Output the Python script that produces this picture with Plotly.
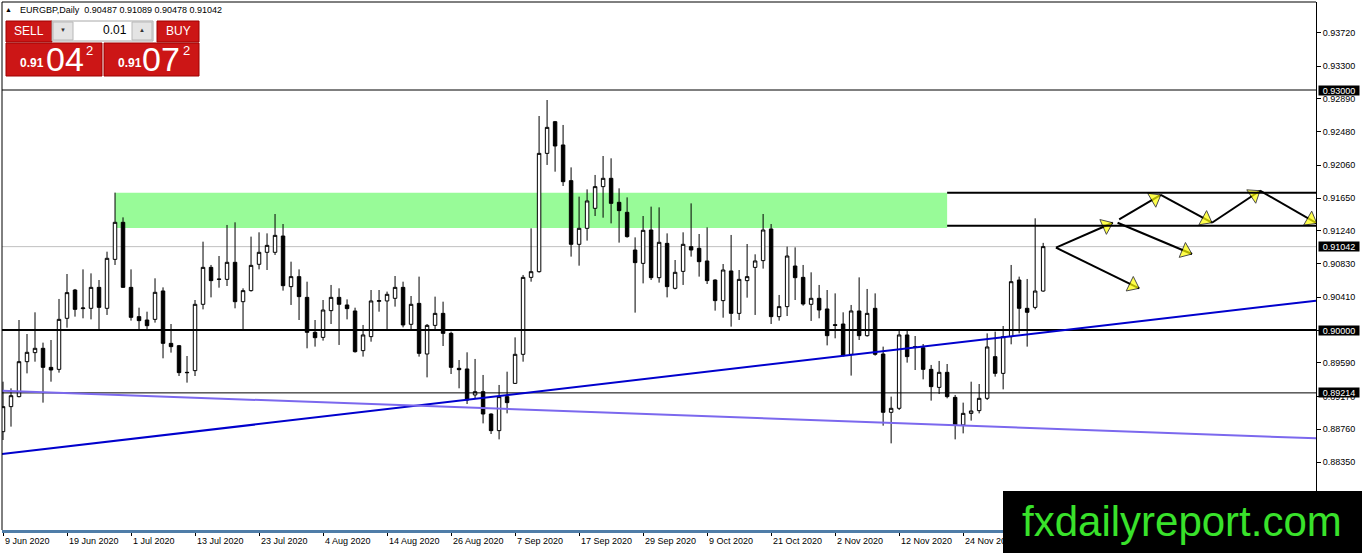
import math
import pandas as pd
import plotly.graph_objects as go

# EURGBP daily candles, 9 Jun 2020 .. 8 Dec 2020
opens = [0.88729, 0.89042, 0.89167, 0.89604, 0.89717, 0.89771, 0.89533, 0.89508, 0.90146, 0.90500,
         0.90267, 0.90271, 0.90533, 0.90271, 0.90883, 0.91346, 0.90533, 0.90167, 0.90125, 0.90133,
         0.90488, 0.89833, 0.89804, 0.89471, 0.89492, 0.90321, 0.90783, 0.90638, 0.90633, 0.90846,
         0.90354, 0.90492, 0.90821, 0.90971, 0.90971, 0.91175, 0.90542, 0.90667, 0.90408, 0.89971,
         0.89908, 0.90242, 0.90408, 0.90313, 0.90238, 0.89742, 0.89917, 0.90358, 0.90363, 0.90396,
         0.90533, 0.90071, 0.90333, 0.89700, 0.90058, 0.90208, 0.89958, 0.89521, 0.89513, 0.89188,
         0.89229, 0.88950, 0.88742, 0.89167, 0.89333, 0.89696, 0.90658, 0.90729, 0.92208, 0.92604,
         0.92313, 0.91867, 0.91071, 0.91271, 0.91521, 0.91792, 0.91896, 0.91596, 0.91471, 0.91000,
         0.90833, 0.91250, 0.90654, 0.91083, 0.90521, 0.90733, 0.91042, 0.91021, 0.90863, 0.90625,
         0.90367, 0.90738, 0.90208, 0.90617, 0.90783, 0.90867, 0.91263, 0.90167, 0.90292, 0.90800,
         0.90658, 0.90321, 0.90396, 0.90263, 0.90067, 0.90075, 0.89696, 0.90238, 0.89929, 0.90271,
         0.89700, 0.88971, 0.89021, 0.89938, 0.89792, 0.89779, 0.89508, 0.89283, 0.89471, 0.89158,
         0.88813, 0.88958, 0.88992, 0.89146, 0.89667, 0.89458, 0.89917, 0.90625, 0.90271, 0.90283,
         0.90487]
highs = [0.89354, 0.89271, 0.90125, 0.89950, 0.90221, 0.89842, 0.89875, 0.90388, 0.90700, 0.90513,
         0.90758, 0.90708, 0.90625, 0.90979, 0.91717, 0.91408, 0.90758, 0.90279, 0.90229, 0.90646,
         0.90533, 0.90075, 0.89813, 0.89675, 0.90375, 0.91104, 0.90813, 0.90925, 0.91313, 0.91346,
         0.90521, 0.91167, 0.91221, 0.91208, 0.91450, 0.91325, 0.90854, 0.90758, 0.90604, 0.90125,
         0.90375, 0.90563, 0.90521, 0.90383, 0.90279, 0.90063, 0.90500, 0.90500, 0.90480, 0.90675,
         0.90604, 0.90425, 0.90667, 0.90075, 0.90417, 0.90354, 0.89979, 0.89625, 0.89721, 0.89638,
         0.89438, 0.88958, 0.89313, 0.89479, 0.89908, 0.90688, 0.91271, 0.92675, 0.92875, 0.92613,
         0.92563, 0.92033, 0.91667, 0.91758, 0.91938, 0.92175, 0.92146, 0.91771, 0.91658, 0.91158,
         0.91425, 0.91542, 0.91533, 0.91208, 0.90875, 0.91221, 0.91583, 0.91200, 0.91283, 0.90633,
         0.90825, 0.91188, 0.90750, 0.91075, 0.90946, 0.91450, 0.91325, 0.90438, 0.91042, 0.91033,
         0.90813, 0.90721, 0.90563, 0.90500, 0.90458, 0.90221, 0.90313, 0.90658, 0.90513, 0.90458,
         0.89792, 0.89167, 0.90008, 0.90008, 0.89925, 0.89825, 0.89563, 0.89613, 0.89575, 0.89188,
         0.89092, 0.89354, 0.89325, 0.89958, 0.89980, 0.90050, 0.90813, 0.90667, 0.90638, 0.91396,
         0.91089]
lows = [0.88625, 0.88792, 0.89158, 0.89458, 0.89604, 0.89092, 0.89354, 0.89467, 0.90029, 0.90167,
        0.90146, 0.90133, 0.89992, 0.90188, 0.90813, 0.90529, 0.90117, 0.89992, 0.89992, 0.90092,
        0.89646, 0.89717, 0.89425, 0.89342, 0.89425, 0.90258, 0.90408, 0.90529, 0.90550, 0.90271,
        0.89992, 0.90480, 0.90758, 0.90750, 0.90938, 0.90492, 0.90313, 0.90125, 0.89771, 0.89792,
        0.89867, 0.90075, 0.89813, 0.90133, 0.89717, 0.89667, 0.89854, 0.90229, 0.90000, 0.90292,
        0.90033, 0.90000, 0.89667, 0.89408, 0.90000, 0.89800, 0.89450, 0.89271, 0.89075, 0.89146,
        0.88833, 0.88700, 0.88633, 0.88958, 0.89325, 0.89604, 0.90604, 0.90717, 0.92063, 0.91979,
        0.91800, 0.90917, 0.90804, 0.91117, 0.91425, 0.91404, 0.91333, 0.91092, 0.91154, 0.90217,
        0.90583, 0.90625, 0.90592, 0.90408, 0.90508, 0.90563, 0.90917, 0.90667, 0.90575, 0.90242,
        0.90154, 0.90042, 0.90125, 0.90404, 0.90188, 0.90767, 0.90075, 0.90117, 0.90175, 0.90375,
        0.90304, 0.90113, 0.90146, 0.89808, 0.89896, 0.89667, 0.89430, 0.89875, 0.89917, 0.89679,
        0.88804, 0.88583, 0.89000, 0.89592, 0.89500, 0.89383, 0.89117, 0.89200, 0.89146, 0.88633,
        0.88708, 0.88867, 0.88958, 0.89125, 0.89417, 0.89258, 0.89821, 0.89958, 0.89792, 0.90258,
        0.90478]
closes = [0.89042, 0.89179, 0.89604, 0.89721, 0.89771, 0.89533, 0.89500, 0.90133, 0.90467, 0.90258,
          0.90275, 0.90533, 0.90283, 0.90896, 0.91346, 0.90533, 0.90158, 0.90117, 0.90054, 0.90471,
          0.89833, 0.89792, 0.89467, 0.89467, 0.90321, 0.90783, 0.90617, 0.90633, 0.90846, 0.90354,
          0.90492, 0.90808, 0.90971, 0.91058, 0.91183, 0.90554, 0.90667, 0.90417, 0.89971, 0.89904,
          0.90250, 0.90408, 0.90321, 0.90267, 0.89729, 0.89938, 0.90363, 0.90367, 0.90446, 0.90533,
          0.90063, 0.90321, 0.89708, 0.90058, 0.90208, 0.89958, 0.89533, 0.89504, 0.89125, 0.89229,
          0.88950, 0.88742, 0.89167, 0.89092, 0.89696, 0.90658, 0.90729, 0.92208, 0.92533, 0.92300,
          0.91854, 0.91071, 0.91271, 0.91613, 0.91792, 0.91896, 0.91583, 0.91492, 0.91167, 0.90842,
          0.91246, 0.90654, 0.91096, 0.90542, 0.90721, 0.91071, 0.91000, 0.90854, 0.90617, 0.90367,
          0.90750, 0.90208, 0.90633, 0.90667, 0.90863, 0.91250, 0.90167, 0.90292, 0.90925, 0.90654,
          0.90325, 0.90396, 0.90250, 0.89929, 0.90058, 0.89679, 0.90238, 0.89929, 0.90208, 0.89696,
          0.88971, 0.89021, 0.89938, 0.89667, 0.89783, 0.89508, 0.89292, 0.89471, 0.89167, 0.88813,
          0.88958, 0.88988, 0.89146, 0.89788, 0.89458, 0.89917, 0.90604, 0.90271, 0.90221, 0.90487,
          0.91042]

date_ticks = ["9 Jun 2020", "19 Jun 2020", "1 Jul 2020", "13 Jul 2020", "23 Jul 2020", "4 Aug 2020",
              "14 Aug 2020", "26 Aug 2020", "7 Sep 2020", "17 Sep 2020", "29 Sep 2020", "9 Oct 2020",
              "21 Oct 2020", "2 Nov 2020", "12 Nov 2020", "24 Nov 2020"]
price_ticks = [0.93720, 0.93300, 0.92890, 0.92480, 0.92060, 0.91650, 0.91240, 0.90830,
               0.90410, 0.90000, 0.89590, 0.89170, 0.88760, 0.88350]
price_tags = [0.93000, 0.91042, 0.90000, 0.89214]

# drawn objects
hlines = [0.93000, 0.90000, 0.89214]
hline_widths = [1, 2, 1]
bid_line = 0.91042
zone_bars = [14, 118]
zone_prices = [0.91275, 0.91717]
res_lines = [0.91715, 0.91304]
blue_trend = ([-0.125, 164.1], [0.88450, 0.90366])
purple_trend = ([-0.125, 164.1], [0.89241, 0.88646])
arrows = [
    (131.6, 0.91029, 142.0, 0.90521),
    (131.6, 0.91029, 138.7, 0.91341),
    (139.3, 0.91341, 148.6, 0.90950),
    (139.5, 0.91384, 144.7, 0.91688),
    (144.7, 0.91688, 151.1, 0.91341),
    (151.1, 0.91341, 157.1, 0.91741),
    (157.1, 0.91741, 164.2, 0.91333),
]

W, H = 1362, 553
L_M, R_M, T_M, B_M = 2, 46, 2, 23
Y_RANGE = [0.875, 0.941]
X_RANGE = [-0.125, 164.1]
FONT = "Liberation Sans, Arial, sans-serif"
RED = "#CC1616"

dates = pd.bdate_range("2020-06-09", periods=len(opens))
date_labels = [f"{d.day} {d:%b %Y}" for d in dates]
idx = list(range(len(opens)))


def px(x):
    return (x - L_M) / (W - L_M - R_M)


def py(y):
    return (H - B_M - y) / (H - T_M - B_M)


fig = go.Figure()
fig.add_trace(go.Candlestick(
    x=idx, open=opens, high=highs, low=lows, close=closes,
    text=date_labels, whiskerwidth=0, showlegend=False,
    increasing=dict(line=dict(color="black", width=1), fillcolor="white"),
    decreasing=dict(line=dict(color="black", width=1), fillcolor="black"),
))

# pixels per unit, to pull arrow heads back from the tips
ppx = (W - L_M - R_M) / (X_RANGE[1] - X_RANGE[0])
ppy = (H - T_M - B_M) / (Y_RANGE[1] - Y_RANGE[0])
for x0, y0, x1, y1 in arrows:
    dl = math.hypot((x1 - x0) * ppx, (y1 - y0) * ppy)
    f = 1 - 7 / dl
    fig.add_trace(go.Scatter(
        x=[x0, x1], y=[y0, y1], mode="lines",
        line=dict(color="black", width=2), hoverinfo="skip", showlegend=False))
    fig.add_trace(go.Scatter(
        x=[x0, x0 + (x1 - x0) * f], y=[y0, y0 + (y1 - y0) * f], mode="markers",
        marker=dict(symbol="triangle-up", size=[0, 14], angleref="previous",
                    color="#FFFF00", line=dict(color="black", width=1)),
        hoverinfo="skip", showlegend=False))

shapes = []
shapes.append(dict(type="rect", xref="x", yref="y", x0=zone_bars[0], x1=zone_bars[1],
                   y0=zone_prices[0], y1=zone_prices[1], fillcolor="#98FB98",
                   line=dict(width=0), layer="below"))
shapes.append(dict(type="line", xref="paper", yref="y", x0=0, x1=1, y0=bid_line, y1=bid_line,
                   line=dict(color="#C0C0C0", width=1), layer="below"))
for lv, lw in zip(hlines, hline_widths):
    shapes.append(dict(type="line", xref="paper", yref="y", x0=0, x1=1, y0=lv, y1=lv,
                       line=dict(color="black", width=lw)))
for lv in res_lines:
    shapes.append(dict(type="line", xref="x", yref="y", x0=zone_bars[1], x1=X_RANGE[1],
                       y0=lv, y1=lv, line=dict(color="black", width=2)))
for (xs, ys), col in [(blue_trend, "#0000CD"), (purple_trend, "#7B68EE")]:
    shapes.append(dict(type="line", xref="x", yref="y", x0=xs[0], x1=xs[1], y0=ys[0], y1=ys[1],
                       line=dict(color=col, width=2)))
# frame: left and top
shapes.append(dict(type="line", xref="paper", yref="paper", x0=0, x1=0, y0=0, y1=1,
                   line=dict(color="black", width=1)))
shapes.append(dict(type="line", xref="paper", yref="paper", x0=0, x1=1, y0=1, y1=1,
                   line=dict(color="black", width=1)))


def box(x0, y0, x1, y1, fill, edge):
    shapes.append(dict(type="rect", xref="paper", yref="paper", x0=px(x0), x1=px(x1),
                       y0=py(y1), y1=py(y0), fillcolor=fill, line=dict(color=edge, width=1),
                       layer="above"))


# one-click trading panel
box(6, 21, 52, 42, RED, "#9E0000")
box(6, 43, 102, 76, RED, "#9E0000")
box(157, 21, 199, 42, RED, "#9E0000")
box(104, 43, 199, 76, RED, "#9E0000")
box(52, 21, 153, 41, "white", "#A8A8A8")
box(53, 22, 73, 40, "#E4E4E4", "#B8B8B8")
box(132, 22, 152, 40, "#E4E4E4", "#B8B8B8")
# watermark
shapes.append(dict(type="rect", xref="paper", yref="paper", x0=px(1003), x1=px(1362),
                   y0=py(553), y1=py(491), fillcolor="black", line=dict(width=0), layer="above"))

ann = []


def txt(x, y, s, size, color="white", anchor="center", bold=False):
    ann.append(dict(xref="paper", yref="paper", x=px(x), y=py(y), text=f"<b>{s}</b>" if bold else s,
                    showarrow=False, xanchor=anchor, yanchor="middle",
                    font=dict(family=FONT, size=size, color=color)))


txt(8, 10, "▲", 7, "black")
txt(18, 10, "EURGBP,Daily  " + " ".join(f"{v:.5f}" for v in [opens[-1], highs[-1], lows[-1], closes[-1]]),
    9, "black", anchor="left")
txt(29, 31, "SELL", 12)
txt(178, 31, "BUY", 12)
txt(63, 30, "▼", 6, "#333333")
txt(142, 30, "▲", 6, "#333333")
txt(129, 30, "0.01", 12, "black", anchor="right")
txt(32, 63, "0.91", 12, bold=True)
txt(65, 59, "04", 34)
txt(89, 51, "2", 13)
txt(130, 63, "0.91", 12, bold=True)
txt(161, 59, "07", 34)
txt(186, 51, "2", 13)
txt(1182, 521, "fxdailyreport.com", 42, "#39E22B")

for t in price_tags:
    ann.append(dict(xref="paper", yref="y", x=1, y=t, xanchor="left", xshift=2, text=f"{t:.5f}",
                    showarrow=False, bgcolor="black", borderpad=0, width=40, height=9,
                    font=dict(family=FONT, size=9, color="white")))
for d in date_ticks:
    ann.append(dict(xref="x", yref="paper", x=date_labels.index(d), y=0, xanchor="left",
                    yanchor="top", yshift=-4, text=d, showarrow=False,
                    font=dict(family=FONT, size=9, color="black")))

fig.update_layout(
    width=W, height=H, margin=dict(l=L_M, r=R_M, t=T_M, b=B_M),
    paper_bgcolor="white", plot_bgcolor="white", boxgap=0.38,
    shapes=shapes, annotations=ann, showlegend=False,
    xaxis=dict(range=X_RANGE, showgrid=False, zeroline=False, showticklabels=False,
               rangeslider=dict(visible=False), ticks="outside", ticklen=3, tickcolor="black",
               tickvals=[date_labels.index(d) for d in date_ticks],
               showline=True, linecolor="#4F7DA8", linewidth=3, fixedrange=True),
    yaxis=dict(range=Y_RANGE, side="right", showgrid=False, zeroline=False,
               tickvals=price_ticks, ticktext=[f"{v:.5f}" for v in price_ticks],
               ticks="outside", ticklen=4, tickcolor="black",
               tickfont=dict(family=FONT, size=9, color="black"),
               showline=True, linecolor="black", linewidth=1, fixedrange=True),
)

fig.write_html("out.html", config={"displayModeBar": False},
               post_script="document.body.style.margin='0';")
